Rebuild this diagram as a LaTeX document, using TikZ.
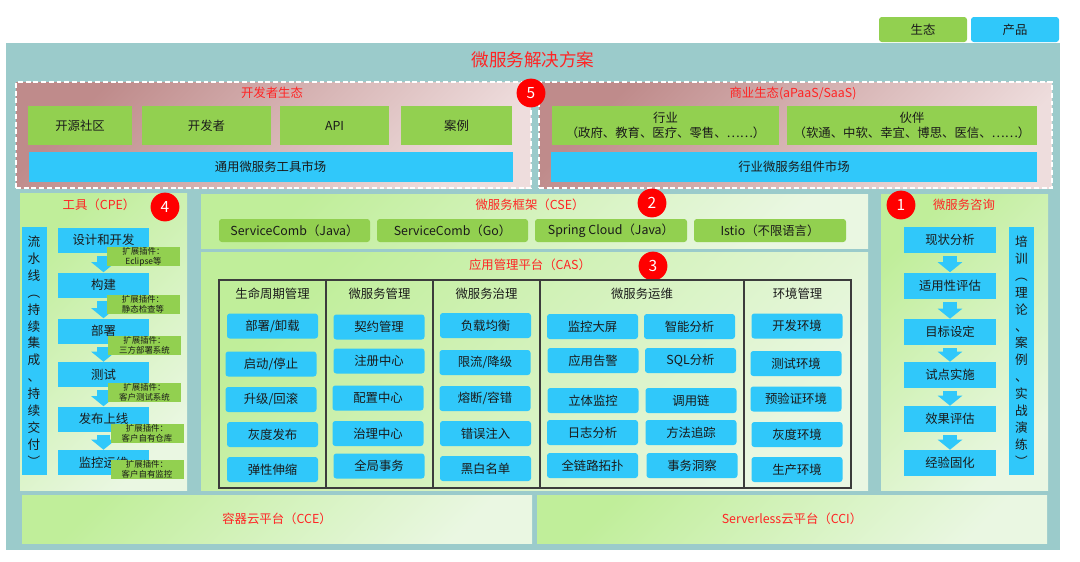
\documentclass[tikz,border=0pt]{standalone}
\usepackage{fontspec}
\setmainfont{Noto Sans CJK SC}
\usepackage{xcolor}
\usepackage{tikz}
\usetikzlibrary{arrows.meta}
\definecolor{cteal}{HTML}{9BCBCB}
\definecolor{cgreen}{HTML}{92D050}
\definecolor{cblue}{HTML}{30C8FA}
\definecolor{cred}{HTML}{FF2424}
\definecolor{cbadge}{HTML}{FF0000}
\definecolor{cpinkA}{HTML}{BF8B8B}
\definecolor{cpinkB}{HTML}{EEDDDD}
\definecolor{climeA}{HTML}{C0EE9A}
\definecolor{climeB}{HTML}{EAF7E2}
\definecolor{cframe}{HTML}{3C3C3C}
\definecolor{ctext}{HTML}{1A1A1A}

\tikzset{
  wh/.style 2 args={minimum width=#1*0.025cm,minimum height=#2*0.025cm},
  eco/.style={fill=cgreen,text=ctext,inner sep=0pt,align=center,
    font=\fontsize{8.8}{10.6}\selectfont},
  prod/.style={fill=cblue,text=ctext,inner sep=0pt,align=center,
    font=\fontsize{8.8}{10.6}\selectfont},
  tile/.style={prod,rounded corners=2pt,wh={91}{25}},
  stagebox/.style={prod,wh={91}{25}},
  phasebox/.style={prod,wh={92}{26}},
  plugin/.style={fill=cgreen,text=ctext,inner sep=0pt,align=center,
    font=\fontsize{6}{7.2}\selectfont,wh={73}{19}},
  vbar/.style={prod,font=\fontsize{9}{12}\selectfont,wh={25}{248}},
  panel/.style={top color=climeA,bottom color=climeB,shading angle=45,inner sep=0pt},
  ecozone/.style={draw=white,line width=1.4pt,dash pattern=on 3.5pt off 2pt,
    top color=cpinkA,bottom color=cpinkB,shading angle=45,inner sep=0pt},
  redtitle/.style={text=cred,inner sep=0pt,font=\fontsize{8.8}{10.6}\selectfont},
  badge/.style={circle,fill=cbadge,text=white,minimum size=0.72cm,inner sep=0pt,
    font=\fontsize{11}{12}\selectfont},
  colframe/.style={draw=cframe,line width=0.8pt,inner sep=0pt},
  colhead/.style={text=ctext,inner sep=0pt,font=\fontsize{8.8}{10.6}\selectfont},
  flow/.style={draw=cblue,line width=0.33cm,-{Triangle[width=0.6cm,length=0.25cm]},
    shorten <=2pt},
}

\begin{document}
\begin{tikzpicture}[x=0.025cm,y=-0.025cm]
  \useasboundingbox (0,0) rectangle (1080,561);
  % legend
  \node[eco,rounded corners=2pt,wh={88}{25}] (legeco) at (923,29.5) {生态};
  \node[prod,rounded corners=2pt,wh={88}{25}] (legprod) at (1015,29.5) {产品};
  % background
  \fill[cteal] (6,43) rectangle (1060,550);
  \node[text=cred,inner sep=0pt,font=\fontsize{12.5}{14}\selectfont] (title) at (533,60) {微服务解决方案};

  % ecosystems
  \node[ecozone,wh={515}{106}] (devzone) at (273.5,135) {};
  \node[redtitle] (devtitle) at (272,93) {开发者生态};
  \node[eco,wh={104}{39}] (d1) at (80,125.5) {开源社区};
  \node[eco,wh={129}{39}] (d2) at (206.5,125.5) {开发者};
  \node[eco,wh={109}{39}] (d3) at (334.5,125.5) {API};
  \node[eco,wh={111}{39}] (d4) at (456.5,125.5) {案例};
  \node[prod,wh={484}{30}] (devmarket) at (270.5,167) {通用微服务工具市场};

  \node[ecozone,wh={513}{106}] (bizzone) at (795.5,135) {};
  \node[redtitle] (biztitle) at (793,93) {商业生态(aPaaS/SaaS)};
  \node[eco,wh={227}{39}] (b1) at (665.5,125) {行业\\（政府、教育、医疗、零售、……）};
  \node[eco,wh={250}{39}] (b2) at (912,125) {伙伴\\（软通、中软、幸宜、博思、医信、……）};
  \node[prod,wh={486}{30}] (bizmarket) at (794,167) {行业微服务组件市场};
  \node[badge] (n5) at (531,93) {5};

  % tools (CPE)
  \node[panel,wh={167}{297}] (tools) at (103.5,341.5) {};
  \node[redtitle] (toolstitle) at (99,205) {工具（CPE）};
  \node[badge] (n4) at (165,207) {4};
  \node[vbar] (pipeline) at (34,351) {流\\水\\线\\︵\\持\\续\\集\\成\\、\\持\\续\\交\\付\\︶};
  \node[stagebox] (s1) at (103.5,240) {设计和开发};
  \node[stagebox] (s2) at (103.5,285) {构建};
  \node[stagebox] (s3) at (103.5,331) {部署};
  \node[stagebox] (s4) at (103.5,374.5) {测试};
  \node[stagebox] (s5) at (103.5,419) {发布上线};
  \node[stagebox] (s6) at (103.5,462.5) {监控运维};
  \draw[flow] (s1.south) -- (s2.north);
  \draw[flow] (s2.south) -- (s3.north);
  \draw[flow] (s3.south) -- (s4.north);
  \draw[flow] (s4.south) -- (s5.north);
  \draw[flow] (s5.south) -- (s6.north);
  \node[plugin] (p1) at (143.5,256.5) {扩展插件：\\Eclipse等};
  \node[plugin] (p2) at (143,304.5) {扩展插件：\\静态检查等};
  \node[plugin] (p3) at (144.5,345) {扩展插件：\\三方部署系统};
  \node[plugin] (p4) at (144.5,392) {扩展插件：\\客户测试系统};
  \node[plugin] (p5) at (147,433.5) {扩展插件：\\客户自有仓库};
  \node[plugin] (p6) at (147,469.5) {扩展插件：\\客户自有监控};

  % framework (CSE)
  \node[panel,wh={667}{54}] (cse) at (534.5,221) {};
  \node[redtitle] (csetitle) at (530,205) {微服务框架（CSE）};
  \node[badge] (n2) at (652,203) {2};
  \node[eco,rounded corners=2pt,wh={151}{23}] (f1) at (294.5,230.5) {ServiceComb（Java）};
  \node[eco,rounded corners=2pt,wh={151}{23}] (f2) at (452.5,230.5) {ServiceComb（Go）};
  \node[eco,rounded corners=2pt,wh={152}{23}] (f3) at (611,230.5) {Spring Cloud（Java）};
  \node[eco,rounded corners=2pt,wh={152}{23}] (f4) at (770,230.5) {Istio（不限语言）};

  % application management (CAS)
  \node[panel,wh={667}{238}] (cas) at (534.5,371) {};
  \node[redtitle] (castitle) at (530,265) {应用管理平台（CAS）};
  \node[badge] (n3) at (653,266) {3};
  \node[colframe,wh={107}{208}] (colA) at (272.5,384) {};
  \node[colframe,wh={107}{208}] (colB) at (379.5,384) {};
  \node[colframe,wh={107}{208}] (colC) at (486.5,384) {};
  \node[colframe,wh={204}{208}] (colD) at (642,384) {};
  \node[colframe,wh={107}{208}] (colE) at (797.5,384) {};
  \node[colhead] (hA) at (272.5,294) {生命周期管理};
  \node[colhead] (hB) at (379.5,294) {微服务管理};
  \node[colhead] (hC) at (486.5,294) {微服务治理};
  \node[colhead] (hD) at (642,294) {微服务运维};
  \node[colhead] (hE) at (797.5,294) {环境管理};

  \node[tile] (l1) at (272.5,326) {部署/卸载};
  \node[tile] (l2) at (271,364) {启动/停止};
  \node[tile] (l3) at (271,399.5) {升级/回滚};
  \node[tile] (l4) at (272.5,434.5) {灰度发布};
  \node[tile] (l5) at (272.5,469.5) {弹性伸缩};

  \node[tile] (m1) at (379,327) {契约管理};
  \node[tile] (m2) at (379,361) {注册中心};
  \node[tile] (m3) at (378,398) {配置中心};
  \node[tile] (m4) at (378,433.5) {治理中心};
  \node[tile] (m5) at (379,466) {全局事务};

  \node[tile] (g1) at (485.5,325.5) {负载均衡};
  \node[tile] (g2) at (485,362.5) {限流/降级};
  \node[tile] (g3) at (485,398.5) {熔断/容错};
  \node[tile] (g4) at (485.5,433.5) {错误注入};
  \node[tile] (g5) at (485.5,468.5) {黑白名单};

  \node[tile] (o1) at (592.5,326.5) {监控大屏};
  \node[tile] (o2) at (689.5,326.5) {智能分析};
  \node[tile] (o3) at (593,360.5) {应用告警};
  \node[tile] (o4) at (690.5,360.5) {SQL分析};
  \node[tile] (o5) at (593,400.5) {立体监控};
  \node[tile] (o6) at (691,400.5) {调用链};
  \node[tile] (o7) at (592.5,432.5) {日志分析};
  \node[tile] (o8) at (691,432.5) {方法追踪};
  \node[tile] (o9) at (592.5,465.5) {全链路拓扑};
  \node[tile] (o10) at (692,465.5) {事务洞察};

  \node[tile] (e1) at (797,326) {开发环境};
  \node[tile] (e2) at (796,363.5) {测试环境};
  \node[tile] (e3) at (796,399) {预验证环境};
  \node[tile] (e4) at (797,434.5) {灰度环境};
  \node[tile] (e5) at (797,469.5) {生产环境};

  % consulting
  \node[panel,wh={167}{296}] (consult) at (964.5,342) {};
  \node[redtitle] (consulttitle) at (964,205) {微服务咨询};
  \node[badge] (n1) at (901,205) {1};
  \node[phasebox] (c1) at (950,240) {现状分析};
  \node[phasebox] (c2) at (950,285.5) {适用性评估};
  \node[phasebox] (c3) at (950,332) {目标设定};
  \node[phasebox] (c4) at (950,375) {试点实施};
  \node[phasebox] (c5) at (950,419) {效果评估};
  \node[phasebox] (c6) at (950,463) {经验固化};
  \draw[flow] (c1.south) -- (c2.north);
  \draw[flow] (c2.south) -- (c3.north);
  \draw[flow] (c3.south) -- (c4.north);
  \draw[flow] (c4.south) -- (c5.north);
  \draw[flow] (c5.south) -- (c6.north);
  \node[vbar] (training) at (1021.5,351) {培\\训\\︵\\理\\论\\、\\案\\例\\、\\实\\战\\演\\练\\︶};

  % cloud platforms
  \node[panel,redtitle,wh={510}{48}] (cce) at (277,519) {容器云平台（CCE）};
  \node[panel,redtitle,wh={510}{48}] (cci) at (792,519) {Serverless云平台（CCI）};
\end{tikzpicture}
\end{document}
